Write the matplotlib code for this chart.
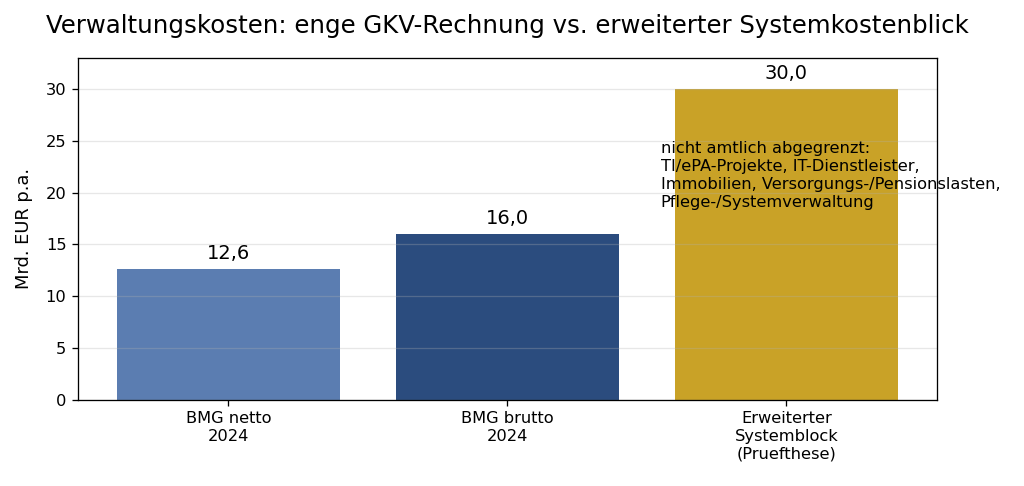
import matplotlib
matplotlib.use("Agg")
import matplotlib.pyplot as plt

# Werte in Mrd. EUR p.a.
categories = ["BMG netto\n2024", "BMG brutto\n2024", "Erweiterter\nSystemblock\n(Pruefthese)"]
values = [12.6, 16.0, 30.0]
bar_colors = ["#5b7db1", "#2b4c7e", "#c9a227"]
note = ("nicht amtlich abgegrenzt:\n"
        "TI/ePA-Projekte, IT-Dienstleister,\n"
        "Immobilien, Versorgungs-/Pensionslasten,\n"
        "Pflege-/Systemverwaltung")

DPI = 117
fig = plt.figure(figsize=(1024 / DPI, 486 / DPI), dpi=DPI)
ax = fig.add_axes([0.076, 0.177, 0.839, 0.704])

x = list(range(len(categories)))
bars = ax.bar(x, values, color=bar_colors, width=0.8)
ax.grid(axis="y", alpha=0.3)

for b, v in zip(bars, values):
    ax.text(b.get_x() + b.get_width() / 2, v + 0.6, "{:.1f}".format(v).replace(".", ","),
            ha="center", va="bottom", fontsize=12)

ax.text(1.55, 25.0, note, ha="left", va="top", fontsize=10, linespacing=1.25)

ax.set_xticks(x)
ax.set_xticklabels(categories, fontsize=10)
ax.tick_params(axis="y", labelsize=10)
ax.set_ylim(0, 33)
ax.set_ylabel("Mrd. EUR p.a.", fontsize=11, labelpad=8)
ax.set_title("Verwaltungskosten: enge GKV-Rechnung vs. erweiterter Systemkostenblick",
             fontsize=15, pad=15)

fig.savefig("out.png", dpi=DPI)
